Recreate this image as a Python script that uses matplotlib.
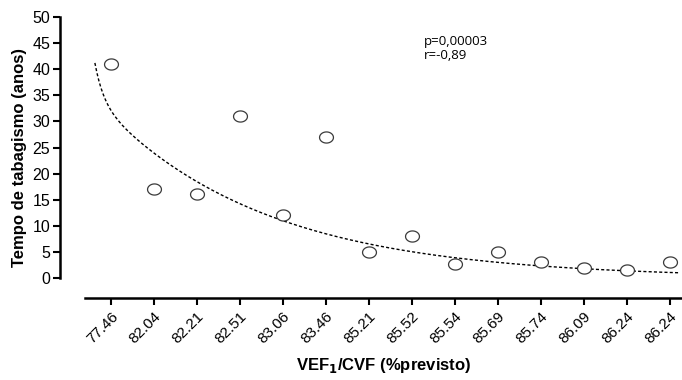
import numpy as np
import matplotlib
matplotlib.use("Agg")
import matplotlib.pyplot as plt
from matplotlib.path import Path

# dados
vef_cvf = ["77.46", "82.04", "82.21", "82.51", "83.06", "83.46", "85.21",
           "85.52", "85.54", "85.69", "85.74", "86.09", "86.24", "86.24"]
tempo = [41, 17, 16, 31, 12, 27, 5, 8, 2.7, 5, 3, 2, 1.5, 3]

# parâmetros da curva de tendência
fit_a, fit_k = 34.2, 0.26     # fase lenta
fit_b, fit_m = 7.0, 5.0       # fase rápida inicial
fit_x0 = -0.37
fit_x1 = 13.23

plt.rcParams['font.family'] = ['Liberation Sans', 'DejaVu Sans']

fig = plt.figure(figsize=(6.82, 3.8), dpi=100)
ax = fig.add_axes([85/682, (380-298)/380, 597/682, (298-17)/380])

pos = np.arange(len(vef_cvf))

# curva de tendência
xc = np.linspace(fit_x0, fit_x1, 300)
tc = xc - fit_x0
yc = fit_a * np.exp(-fit_k * tc) + fit_b * np.exp(-fit_m * tc)
ax.plot(xc, yc, color="black", lw=1.0, dashes=(2.2, 1.6))

# marcador elíptico (círculos achatados como na figura)
t = np.linspace(0, 2*np.pi, 60)
ell = Path(np.column_stack([np.cos(t), 0.8*np.sin(t)]), closed=True)
ax.plot(pos, tempo, ls="none", marker=ell, ms=10, mfc="white",
        mec="#3a3a3a", mew=0.9)

ax.set_xlim(-0.6, 13.28)
ax.set_ylim((278-298)/5.22, 50)

ax.spines["top"].set_visible(False)
ax.spines["right"].set_visible(False)
ax.spines["left"].set_position(("outward", 18))
ax.spines["left"].set_bounds(0, 50)
ax.spines["left"].set_linewidth(1.8)
ax.spines["bottom"].set_linewidth(1.8)

ax.set_yticks(range(0, 51, 5))
ax.set_xticks(pos)
ax.set_xticklabels(vef_cvf, rotation=45, ha="right", rotation_mode="anchor")
ax.tick_params(axis="both", direction="out", length=5, width=1.5,
               labelsize=11.5)
ax.tick_params(axis="x", labelsize=11, pad=3)
ax.tick_params(axis="y", pad=2)

ax.set_ylabel("Tempo de tabagismo (anos)", fontsize=12, fontweight="bold",
              labelpad=4)
ax.set_xlabel("VEF$_\\mathbf{1}$/CVF (%previsto)", fontsize=12,
              fontweight="bold", labelpad=7)

ax.text(7.28, 46.6, "p=0,00003\nr=-0,89", fontsize=9.5, family="Open Sans",
        va="top", ha="left", linespacing=1.15)

plt.savefig("out.png", dpi=100)
